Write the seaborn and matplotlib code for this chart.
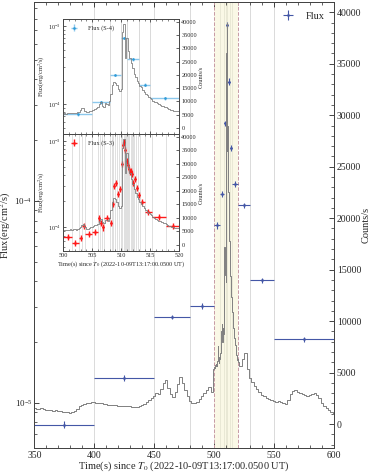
import numpy as np
import pandas as pd
import matplotlib
matplotlib.use('Agg')
import matplotlib.pyplot as plt
import seaborn as sns
from matplotlib.ticker import MultipleLocator, LogLocator, NullFormatter

# ---- light curve (counts/s) ----
t_pre = np.arange(350, 500, 2.0)
c_pre = [1550, 1500, 1480, 1520, 1430, 1400, 1380, 1350, 1300, 1330,
         1260, 1220, 1180, 1150, 1170, 1120, 1160, 1250, 1500, 1760,
         1850, 1950, 2000, 2050, 2100, 2120, 2080, 2040, 2010, 1960,
         1920, 1880, 1850, 1870, 1830, 1800, 1780, 1760, 1790, 1740,
         1720, 1690, 1700, 1660, 1720, 1850, 1980, 2150, 2300, 2500,
         2750, 3050, 2900, 3400, 3950, 4250, 3500, 2900, 2650, 3100,
         3900, 4550, 4000, 3300, 2700, 2200, 2050, 2000, 2150, 2450,
         2750, 3050, 3300, 3550, 3150]
t_flare = np.arange(500, 520, 0.25)
c_flare = [5300, 5500, 5400, 5650, 5550, 5700, 5600, 5800,
           5750, 5600, 5900, 6100, 6600, 7400, 7600, 6500,
           5900, 6000, 6300, 6500, 6600, 6900, 7200, 7500,
           7700, 9000, 9700, 8400, 8000, 9300, 9100, 8700,
           10100, 12800, 16000, 17200, 16800, 16000, 14500, 13800,
           14500, 36000, 39000, 26500, 34000, 29000, 26500, 24500,
           22500, 20500, 19300, 17800, 16800, 15900, 15300, 14400,
           13600, 12900, 12300, 11800, 11300, 10900, 10300, 9900,
           9600, 9350, 9000, 8700, 8400, 8200, 8000, 7700,
           7400, 7100, 6900, 6700, 6500, 6300, 6200, 6350]
t_post = np.arange(520, 601, 2.0)
c_post = [6000, 5600, 6300, 6900, 5300, 4500, 4100, 3700, 3400, 3100,
          2850, 2700, 2550, 2400, 2300, 2200, 2150, 2200, 2100, 2000,
          1950, 2300, 2900, 3200, 3300, 3150, 3050, 2900, 2800, 2750,
          2800, 2950, 3050, 2850, 2500, 2000, 1750, 1600, 1400, 1200,
          1000]
lc = pd.DataFrame({'time': np.concatenate([t_pre, t_flare, t_post]),
                   'counts': np.concatenate([c_pre, c_flare, c_post])})

# ---- flux, main panel ----
main_lo = [350, 400, 450, 480, 500, 505, 508, 510, 511, 513, 515, 520, 530, 550]
main_hi = [400, 450, 480, 500, 505, 508, 510, 511, 513, 515, 520, 530, 550, 600]
main_flux = [7.8e-6, 1.33e-5, 2.67e-5, 3.02e-5, 7.6e-5, 1.08e-4, 2.42e-4,
             7.4e-4, 3.9e-4, 1.83e-4, 1.21e-4, 9.5e-5, 4.05e-5, 2.07e-5]
main_err = [3e-7, 4e-7, 6e-7, 1.0e-6, 3e-6, 4e-6, 8e-6,
            2.5e-5, 1.4e-5, 7e-6, 4e-6, 3e-6, 1.2e-6, 6e-7]

# ---- flux, S-4 ----
s4_lo = [500, 505, 508, 510, 511, 513, 515]
s4_hi = [505, 508, 510, 511, 513, 515, 520]
s4_flux = [7.5e-5, 1.06e-4, 2.38e-4, 7.1e-4, 3.75e-4, 1.78e-4, 1.19e-4]
s4_err = [3e-6, 4e-6, 8e-6, 2.5e-5, 1.3e-5, 7e-6, 4e-6]

# ---- flux, S-3 ----
s3_lo = [500.0, 501.5, 502.7, 503.3, 503.8, 504.9, 506.0, 506.4, 506.7, 507.0,
         508.0, 508.4, 508.6, 508.9, 509.2, 509.6, 510.0, 510.2, 510.4, 510.6,
         510.8, 511.0, 511.2, 511.4, 511.6, 511.8, 512.0, 512.2, 512.45, 512.8,
         513.3, 514.0, 515.3, 517.7]
s3_hi = [501.5, 502.7, 503.3, 503.8, 504.9, 506.0, 506.4, 506.7, 507.0, 508.0,
         508.4, 508.6, 508.9, 509.2, 509.6, 510.0, 510.2, 510.4, 510.6, 510.8,
         511.0, 511.2, 511.4, 511.6, 511.8, 512.0, 512.2, 512.45, 512.8, 513.3,
         514.0, 515.3, 517.7, 520.0]
s3_flux = [7.8e-5, 6.6e-5, 7.6e-5, 1.05e-4, 8.4e-5, 8.9e-5, 1.27e-4, 1.12e-4, 1.0e-4, 1.3e-4,
           1.13e-4, 1.86e-4, 3.0e-4, 3.25e-4, 2.45e-4, 2.75e-4, 5.4e-4, 9.0e-4, 9.7e-4, 7.8e-4,
           5.9e-4, 5.3e-4, 4.7e-4, 4.4e-4, 4.5e-4, 4.1e-4, 3.25e-4, 3.6e-4, 2.85e-4, 2.35e-4,
           1.95e-4, 1.52e-4, 1.33e-4, 1.05e-4]
s3_err = [0.08 * f for f in s3_flux]

sns.set_style('ticks')
plt.rcParams['font.family'] = ['Liberation Serif', 'DejaVu Serif']
plt.rcParams['mathtext.fontset'] = 'stix'
plt.rcParams['xtick.direction'] = 'in'
plt.rcParams['ytick.direction'] = 'in'

GRAY = '#808080'
XLAB = 'Time(s) since $T_0$ (2022-10-09T13:17:00.0500 UT)'
YLAB = 'Flux(erg/cm$^2$/s)'


def mid(lo, hi):
    lo, hi = np.array(lo), np.array(hi)
    return (lo + hi) / 2, (hi - lo) / 2


fig = plt.figure(figsize=(3.73, 4.72), dpi=100)

# ---------------- main panel ----------------
ax = fig.add_axes([0.092, 0.0508, 0.8035, 0.945])
axr = ax.twinx()

ax.axvspan(500, 520, color='#f7f3d2', alpha=0.55, lw=0, zorder=0)
for x in [400, 450, 480, 530, 550]:
    ax.axvline(x, color='#d5d5d5', lw=0.6, zorder=0.5)
for x in s4_lo[1:]:
    ax.axvline(x, color='#e2e2cf', lw=0.5, zorder=0.5)
for x in [500, 520]:
    ax.axvline(x, color='#c79aa6', lw=0.7, ls='--', zorder=0.6)

xc, xe = mid(main_lo, main_hi)
ax.errorbar(xc, main_flux, xerr=xe, yerr=main_err, fmt='.', ms=2, color='#4457a6',
            elinewidth=0.8, capsize=0, label='Flux', zorder=3)
ax.set_yscale('log')
ax.set_ylim(5.98e-6, 9.66e-4)
ax.set_xlim(350, 600)
ax.xaxis.set_major_locator(MultipleLocator(50))
ax.xaxis.set_minor_locator(MultipleLocator(10))
ax.yaxis.set_minor_formatter(NullFormatter())
ax.tick_params(which='both', labelsize=7, top=True, pad=2)
ax.tick_params(axis='y', labelsize=6.5, pad=1.5)
ax.tick_params(which='major', length=3.5, width=0.6)
ax.tick_params(which='minor', length=2, width=0.5)
ax.set_xlabel(XLAB, fontsize=7.5, labelpad=0)
ax.set_ylabel(YLAB, fontsize=7.5, labelpad=0)
ax.yaxis.set_label_coords(-0.07, 0.5)
ax.legend(loc='upper right', bbox_to_anchor=(1.0, 1.0), frameon=False, fontsize=7.5,
          handlelength=1.4, handletextpad=1.0)

sns.lineplot(data=lc, x='time', y='counts', ax=axr, color=GRAY, lw=0.7,
             drawstyle='steps-mid', estimator=None)
axr.set_ylim(-2330, 41000)
axr.set_xlim(350, 600)
axr.yaxis.set_major_locator(MultipleLocator(5000))
axr.yaxis.set_minor_locator(MultipleLocator(1000))
axr.tick_params(which='both', labelsize=7, pad=2)
axr.tick_params(which='major', length=3.5, width=0.6)
axr.tick_params(which='minor', length=2, width=0.5)
axr.set_ylabel('Counts/s', fontsize=7.5, labelpad=0)
axr.set_xlabel('')

for a in (ax, axr):
    for s in a.spines.values():
        s.set_linewidth(0.7)
        s.set_color('#444444')


def inset(rect, lo, hi, flux, err, color, label, ylim, edges, edge_lw, ecolor, alpha):
    ia = fig.add_axes(rect)
    ia.set_facecolor('white')
    ir = ia.twinx()
    for x in edges:
        ia.axvline(x, color='#d3d3d3', lw=edge_lw, zorder=0.5)
    c, e = mid(lo, hi)
    ia.errorbar(c, flux, xerr=e, yerr=err, fmt='.', ms=1.8, color=color, ecolor=ecolor,
                elinewidth=1.0, capsize=0, label=label, zorder=3, alpha=alpha)
    ia.set_yscale('log')
    ia.set_ylim(*ylim)
    ia.set_xlim(500, 520)
    ia.xaxis.set_major_locator(MultipleLocator(5))
    ia.xaxis.set_minor_locator(MultipleLocator(1))
    ia.yaxis.set_minor_formatter(NullFormatter())
    ia.tick_params(which='both', labelsize=4.5, top=True, pad=1.5)
    ia.tick_params(which='major', length=2.5, width=0.5)
    ia.tick_params(which='minor', length=1.3, width=0.4)
    ia.set_ylabel(YLAB, fontsize=4.5, labelpad=1)
    ia.legend(loc='upper left', frameon=False, fontsize=4.5, handlelength=1.4,
              handletextpad=1.5, borderaxespad=0.6)
    sns.lineplot(data=lc, x='time', y='counts', ax=ir, color=GRAY, lw=0.6,
                 drawstyle='steps-mid', estimator=None)
    ir.set_xlim(500, 520)
    ir.set_ylim(-2300, 41000)
    ir.yaxis.set_major_locator(MultipleLocator(5000))
    ir.tick_params(which='both', labelsize=4.5, pad=1.5, length=2.5, width=0.5)
    ir.set_ylabel('Counts/s', fontsize=4.5, labelpad=1)
    ir.set_xlabel('')
    for a in (ia, ir):
        for s in a.spines.values():
            s.set_linewidth(0.6)
            s.set_color('#444444')
    return ia, ir


i1, i1r = inset([0.1697, 0.716, 0.311, 0.2436], s4_lo, s4_hi, s4_flux, s4_err,
                '#2f9bd8', 'Flux (S-4)', (10 ** -4.379, 10 ** -2.911), s4_lo[1:], 0.6,
                '#8cc8ec', 1.0)
i1.tick_params(labelbottom=False)
i1.set_xlabel('')

i2, i2r = inset([0.1697, 0.468, 0.311, 0.2479], s3_lo, s3_hi, s3_flux, s3_err,
                '#ff1a1a', 'Flux (S-3)', (10 ** -4.274, 10 ** -2.923), s3_lo[1:], 0.5,
                '#ff1a1a', 1.0)
i2.set_xlabel(XLAB, fontsize=4.5, labelpad=1)

fig.savefig('out.png', dpi=100)
